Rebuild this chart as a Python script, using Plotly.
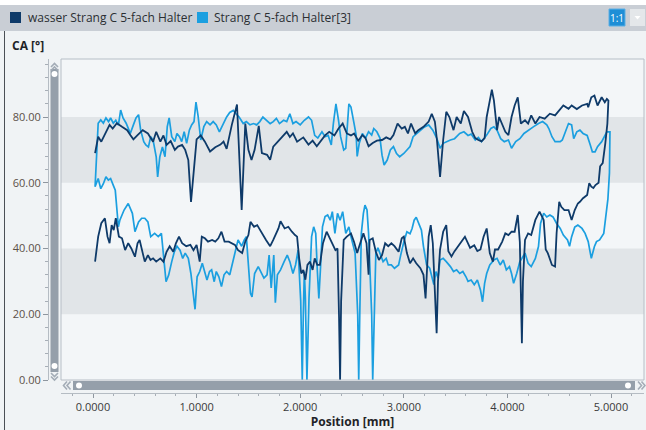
import plotly.graph_objects as go

# ---------------- data ----------------
series_names = ["wasser Strang C 5-fach Halter", "Strang C 5-fach Halter[3]"]

# dark series: outward branch (upper), ascending position
dark_out_x = [0.02,0.05,0.08,0.11,0.13,0.16,0.19,0.23,0.28,0.33,0.36,0.39,0.43,0.48,0.53,0.58,0.61,0.65,0.68,0.71,
              0.75,0.79,0.82,0.86,0.89,0.92,0.946,0.97,1.0,1.04,1.08,1.13,1.18,1.23,1.26,1.29,1.34,1.39,1.435,1.47,
              1.50,1.53,1.56,1.60,1.63,1.68,1.71,1.74,1.79,1.83,1.87,1.90,1.93,1.97,2.03,2.08,2.12,2.16,2.20,2.24,
              2.28,2.33,2.37,2.41,2.45,2.49,2.52,2.56,2.60,2.63,2.66,2.70,2.74,2.79,2.83,2.87,2.90,2.94,2.98,3.01,
              3.04,3.07,3.11,3.14,3.19,3.24,3.27,3.30,3.32,3.35,3.38,3.41,3.44,3.48,3.51,3.55,3.58,3.62,3.66,3.69,
              3.72,3.75,3.78,3.80,3.83,3.85,3.87,3.90,3.92,3.95,3.98,4.01,4.04,4.07,4.10,4.13,4.17,4.20,4.23,4.27,
              4.31,4.36,4.41,4.46,4.51,4.54,4.59,4.62,4.67,4.72,4.77,4.78,4.81,4.84,4.87,4.91,4.94,4.96,4.975]
dark_out_y = [69,74,72.5,74.5,76,77.6,76.5,78.1,77,76,74.5,73.2,74.5,76,75,72.5,75.5,72.5,74.4,71.5,
              72.7,70,71,71.5,70,66.9,54.2,63.9,73.2,74.4,72.5,69.5,70.8,71.6,72.5,70.3,77.6,83.8,51.7,78,
              70,66.9,70,77.3,69,68.5,67,71,72.8,74,75.5,73.9,75,72.5,73.8,71.6,72.8,71.1,72.8,74.4,
              75.5,74.4,76.5,78,75,74.4,75,72.8,74.5,73.6,71.1,72.1,72.8,73,73.8,73.2,74.5,78,76.5,77,
              75,78,75,76,77,78.6,81,78.6,73,61.8,73,81.6,80,76,80,78,81.8,80,75.5,73.6,
              73,72.6,73.6,80,85,88.3,85,76,80,78,75.5,74.5,80,83.5,86,78,79,78,80.5,78,
              80,79.5,81,80.5,82.4,83.5,82.5,83.5,82.4,83.5,84,83,86,86.5,83.5,86,84.5,85.5,85]

# dark series: return branch (lower), listed in ascending position
dark_back_x = [0.02,0.05,0.08,0.115,0.14,0.16,0.18,0.20,0.22,0.25,0.28,0.31,0.34,0.37,0.405,0.43,0.45,0.48,0.50,0.53,
               0.555,0.58,0.61,0.65,0.68,0.71,0.74,0.775,0.80,0.83,0.86,0.90,0.94,0.97,1.00,1.03,1.05,1.08,1.11,1.15,
               1.18,1.21,1.24,1.27,1.31,1.34,1.37,1.40,1.44,1.47,1.50,1.52,1.555,1.585,1.61,1.64,1.67,1.71,1.74,1.79,
               1.81,1.85,1.885,1.92,1.95,1.97,1.99,2.01,2.03,2.05,2.07,2.095,2.12,2.14,2.165,2.19,2.22,2.255,2.28,2.31,
               2.34,2.36,2.375,2.385,2.395,2.42,2.45,2.49,2.52,2.55,2.57,2.61,2.64,2.66,2.67,2.70,2.73,2.76,2.79,2.82,
               2.85,2.88,2.91,2.95,2.98,3.00,3.03,3.06,3.09,3.12,3.16,3.19,3.21,3.24,3.26,3.28,3.30,3.317,3.33,3.35,
               3.38,3.41,3.43,3.46,3.49,3.53,3.59,3.64,3.68,3.71,3.74,3.77,3.80,3.83,3.86,3.88,3.91,3.95,3.98,4.01,
               4.04,4.07,4.10,4.12,4.133,4.14,4.15,4.17,4.20,4.23,4.27,4.31,4.35,4.37,4.39,4.43,4.46,4.475,4.50,4.52,
               4.55,4.59,4.62,4.65,4.68,4.70,4.73,4.77,4.79,4.81,4.83,4.85,4.88,4.895,4.92,4.945,4.965]
dark_back_y = [36,43.6,47.7,49.2,43.6,41.6,47.1,45.6,49.2,43.6,43.1,39.5,41.6,40,37.5,41.6,42.6,38.6,36,38,
               36.5,37,36,37,36,39,40.7,39,41.6,43.6,41.6,40.7,41.1,39.5,41.1,36,43.6,43.1,42.1,42.6,
               42.1,43.1,45.1,42.1,42.1,41.6,41.1,39.5,38.6,42.1,44.1,48.1,46.6,47.1,45.6,44.1,42.6,40.7,42.6,46.1,
               48.3,46.1,46.6,45.1,44.1,43.6,37,32.4,33.5,30.5,35,36,33.5,37,35,35,41.6,45.1,43.6,41.6,
               39.5,40,19,0,24,42.6,43.6,44.6,42,38.6,40.7,44.6,41.6,32,42.6,43.1,39,36.5,38,41.6,
               40.7,41.6,40.7,39,43.1,43.6,38.6,35.5,37,35.5,34,32,24.8,43.6,47.1,41.6,28,14.2,30,39.7,
               45.1,47.1,39.2,37.6,39.2,41.1,43.6,40.2,41,39.2,39.7,43.6,46.1,38.6,36,39.7,39.7,42.1,44.6,44.1,
               45.1,45.1,50.2,42,25,11.2,30,42.6,44.6,44.1,48.7,51.2,48.7,39.7,38.6,35,34.5,44.7,54.2,52.7,
               51.7,51.7,48.7,51.7,53.7,54.2,55.3,56.3,59.9,58.8,58.4,59.3,60,65,66,72,78]

# light series: outward branch (upper), ascending position
light_out_x = [0.02,0.035,0.05,0.075,0.10,0.125,0.15,0.17,0.196,0.22,0.245,0.267,0.29,0.32,0.34,0.36,0.39,0.415,0.44,0.46,
               0.49,0.51,0.535,0.557,0.58,0.61,0.624,0.645,0.67,0.695,0.717,0.735,0.76,0.79,0.81,0.835,0.856,0.88,0.904,0.93,
               0.952,0.975,0.994,1.015,1.04,1.07,1.097,1.13,1.16,1.19,1.22,1.25,1.29,1.32,1.354,1.38,1.41,1.45,1.48,1.515,
               1.55,1.58,1.61,1.64,1.68,1.71,1.74,1.77,1.80,1.84,1.87,1.90,1.93,1.96,2.00,2.04,2.08,2.11,2.14,2.17,
               2.21,2.24,2.27,2.30,2.32,2.345,2.37,2.39,2.42,2.44,2.47,2.49,2.52,2.54,2.55,2.57,2.60,2.63,2.66,2.69,
               2.71,2.74,2.77,2.79,2.81,2.84,2.87,2.90,2.93,2.96,3.00,3.03,3.06,3.09,3.13,3.17,3.20,3.24,3.28,3.32,
               3.35,3.38,3.41,3.45,3.49,3.54,3.58,3.62,3.65,3.69,3.72,3.75,3.80,3.84,3.87,3.90,3.935,3.97,4.01,4.04,
               4.08,4.12,4.16,4.20,4.25,4.30,4.34,4.38,4.40,4.43,4.46,4.51,4.53,4.56,4.59,4.62,4.64,4.67,4.70,4.73,
               4.77,4.80,4.82,4.846,4.87,4.91,4.94,4.96,4.99]
light_out_y = [58.8,70,78.1,79.1,78.1,79.7,78.6,79.7,78.1,79,77.5,82.1,79.7,78.1,76.5,75,77.6,79.7,80.7,76,
               72.5,71.5,70.9,74,73,67.9,61.8,67.9,70.9,67.9,77.1,79.7,74,72.5,75,74,72.5,75.5,72,76,
               77.6,78.6,84.5,80.2,73,77.1,78.6,77.6,78.6,77.6,75.5,77.5,80,81.4,82,81,80,78,78.6,77.6,
               78,77.6,78.6,80,79,78,78.6,79.6,78,79,78.6,81,78,78.6,77.6,79,80,79,74.4,73.6,
               75.5,74,74.4,71.5,78,84,79,74,70,70.5,84,83,78,74.5,68,72,75,73.6,75.5,74.5,
               76.5,75.5,73.6,68.4,65.4,66.9,70,71,68.9,67.9,68.9,70,71,74,75,76,77,77.6,76,73.4,
               70.5,72,72.5,73,73.4,75,75.5,74.4,74.8,73,73.8,72.5,74.5,76.5,77,76,73.4,72.5,73,70.5,
               72.5,73.4,75,76,77,78,78.6,77.6,76.5,74,72.5,72.5,73,75.5,78,77.6,73.4,75.5,76,75,
               74.4,71.5,69.4,69.4,71,72.5,74.4,75.5,75.5]

# light series: return branch (lower), listed in path order (descending position)
light_back_x = [4.985,4.97,4.95,4.93,4.89,4.86,4.84,4.83,4.81,4.795,4.78,4.75,4.72,4.68,4.65,4.62,4.60,4.58,4.54,4.51,
                4.475,4.44,4.41,4.38,4.35,4.32,4.30,4.27,4.23,4.20,4.17,4.14,4.12,4.09,4.06,4.04,4.02,3.99,3.96,3.93,
                3.90,3.87,3.83,3.80,3.78,3.76,3.74,3.71,3.68,3.65,3.62,3.60,3.57,3.54,3.51,3.48,3.45,3.41,3.38,3.35,
                3.33,3.31,3.29,3.25,3.22,3.19,3.17,3.12,3.10,3.08,3.06,3.03,3.00,2.97,2.95,2.91,2.88,2.85,2.83,2.80,
                2.78,2.75,2.73,2.715,2.70,2.69,2.68,2.66,2.645,2.625,2.61,2.59,2.575,2.565,2.555,2.545,2.53,2.49,2.47,2.44,
                2.41,2.385,2.36,2.335,2.31,2.29,2.265,2.24,2.215,2.195,2.18,2.165,2.15,2.13,2.11,2.085,2.065,2.05,2.04,2.03,
                2.02,2.005,1.98,1.955,1.93,1.90,1.875,1.845,1.81,1.78,1.76,1.745,1.72,1.70,1.68,1.65,1.61,1.595,1.56,1.535,
                1.52,1.50,1.48,1.46,1.435,1.40,1.37,1.345,1.32,1.29,1.265,1.24,1.215,1.19,1.17,1.145,1.125,1.10,1.075,1.055,
                1.03,1.005,0.985,0.965,0.945,0.92,0.89,0.866,0.84,0.81,0.785,0.76,0.73,0.705,0.685,0.66,0.63,0.595,0.557,0.53,
                0.50,0.47,0.44,0.405,0.38,0.34,0.30,0.26,0.245,0.23,0.215,0.196,0.17,0.148,0.125,0.10,0.075,0.05,0.02]
light_back_y = [63,55,49,44.6,42.6,42.1,40.6,39.5,37,39.5,42.1,44.6,46.1,47.1,46.5,43.6,40.7,42.6,44.1,46.1,
                47.6,49.6,50.2,49.6,50.7,47.6,40.6,37,34.5,35.5,38.6,37,36,32.4,29.4,32.4,34.5,33.5,36.5,35,
                37,36.5,35,32.4,29.4,23.8,27.4,30.4,29,30.4,30,31.4,33,32.4,33.5,33,34.5,36,37,36.5,
                31,33,29,34,35,40.6,45.6,49.5,48.6,46.1,44.5,45.1,42,38,35,34,35,35,37,36,
                37.6,40.2,38.6,20,0,20,30,44.6,51.7,53.2,50.7,44.6,20,0,20,28.4,38.6,43.6,46.6,44.6,
                51.2,48.6,50.7,44.6,51.2,48.6,50.2,49.7,46.6,33.5,24.8,33.5,44.6,46.6,43.6,25,0,25,33,20,
                0,24,39.5,35,32.4,36,38,36,33.5,32,23.5,38,28,38,32,31,33.5,34.5,32.4,25.3,
                26.4,36.5,43.6,42.6,40.7,42.6,38.6,35,32,33,32,28.4,31.4,33,29.9,33.5,33,30.4,33,35.5,
                33,31.4,21.5,27,32.4,37,38.6,37,39.5,40.7,39,36,31.9,29.9,37.5,44.6,43.6,44.6,43.6,48.1,
                49.2,49.2,48.1,45.1,50.7,53.7,51.7,48.7,46.6,52.7,57.7,59.2,61.3,60.8,61.8,59.7,58.2,61.3,58.8]

x_tick_vals = [0, 1, 2, 3, 4, 5]
y_tick_vals = [0, 20, 40, 60, 80]
band_ranges = [(20, 40), (60, 80)]

# ---------------- geometry helpers (pixel -> paper) ----------------
W, H = 646, 430
ML, MR, MT, MB = 48, 2, 59, 37
PW, PH = W - ML - MR, H - MT - MB
def px(x):
    return (x - ML) / PW
def py(y):
    return (H - MB - y) / PH

plot_left, plot_right, plot_bottom = 61, 644, 380
x_dom = [px(plot_left), 1.0]
y_dom = [py(plot_bottom), 1.0]
ppu = 103.6
x_rng = [(plot_left - 93) / ppu, (plot_right - 93) / ppu]
y_rng = [0, (plot_bottom - MT) / 3.2875]

DARK = "#0E3A69"
LIGHT = "#1B9FE0"
FONT = "Open Sans"

dark_x = dark_out_x + dark_back_x[::-1]
dark_y = dark_out_y + dark_back_y[::-1]
light_x = light_out_x + light_back_x
light_y = light_out_y + light_back_y

fig = go.Figure()
fig.add_trace(go.Scatter(x=light_x, y=light_y, mode="lines", name=series_names[1],
                         line=dict(color=LIGHT, width=1.7), showlegend=False))
fig.add_trace(go.Scatter(x=dark_x, y=dark_y, mode="lines", name=series_names[0],
                         line=dict(color=DARK, width=1.8), showlegend=False))

shapes = []
# bands
for lo, hi in band_ranges:
    shapes.append(dict(type="rect", xref="x domain", yref="y", x0=0, x1=1, y0=lo, y1=hi,
                       fillcolor="#E1E5E8", line=dict(width=0), layer="below"))
# plot border
shapes.append(dict(type="rect", xref="x domain", yref="y domain", x0=0, x1=1, y0=0, y1=1,
                   line=dict(color="#B7BEC6", width=1), fillcolor="rgba(0,0,0,0)"))
# top white strip and header bar
shapes.append(dict(type="rect", xref="paper", yref="paper", x0=px(0), x1=px(646), y0=py(5), y1=py(0),
                   fillcolor="white", line=dict(width=0)))
shapes.append(dict(type="rect", xref="paper", yref="paper", x0=px(0), x1=px(646), y0=py(31), y1=py(5),
                   fillcolor="#C9CED5", line=dict(width=0)))
# left dark border line
shapes.append(dict(type="line", xref="paper", yref="paper", x0=px(4.5), x1=px(4.5), y0=py(31), y1=py(430),
                   line=dict(color="#4A4F55", width=1)))
# legend squares
shapes.append(dict(type="rect", xref="paper", yref="paper", x0=px(10), x1=px(21), y0=py(23), y1=py(12),
                   fillcolor=DARK, line=dict(width=0)))
shapes.append(dict(type="rect", xref="paper", yref="paper", x0=px(197), x1=px(208), y0=py(23), y1=py(12),
                   fillcolor=LIGHT, line=dict(width=0)))
# 1:1 button and dropdown
shapes.append(dict(type="rect", xref="paper", yref="paper", x0=px(609), x1=px(625), y0=py(26), y1=py(9),
                   fillcolor="#1E8ED6", line=dict(color="#5AAFE5", width=1)))
shapes.append(dict(type="rect", xref="paper", yref="paper", x0=px(630), x1=px(645), y0=py(26), y1=py(9),
                   fillcolor="#E4E7EA", line=dict(width=0)))
# vertical scrollbar
shapes.append(dict(type="rect", xref="paper", yref="paper", x0=px(50.5), x1=px(58.5), y0=py(372), y1=py(69),
                   fillcolor="#959FAA", line=dict(width=0)))
# horizontal scrollbar
shapes.append(dict(type="rect", xref="paper", yref="paper", x0=px(73), x1=px(635), y0=py(390), y1=py(381),
                   fillcolor="#959FAA", line=dict(width=0)))
# scrollbar knobs
for cx, cy in [(54.5, 74), (54.5, 366), (79, 385.5), (628, 385.5)]:
    shapes.append(dict(type="circle", xref="paper", yref="paper", x0=px(cx - 3), x1=px(cx + 3),
                       y0=py(cy + 3), y1=py(cy - 3), fillcolor="white", line=dict(width=0)))

def chevron(pts):
    d = "M " + " L ".join(f"{px(a):.5f},{py(b):.5f}" for a, b in pts)
    return dict(type="path", xref="paper", yref="paper", path=d,
                line=dict(color="#A3ACB6", width=1.6))
# vertical chevrons (up / down)
for off in (0, 3.5):
    shapes.append(chevron([(51, 67 + off), (54.5, 63.5 + off), (58, 67 + off)]))
    shapes.append(chevron([(51, 373 + off), (54.5, 376.5 + off), (58, 373 + off)]))
# horizontal chevrons (left / right)
for off in (0, 3.5):
    shapes.append(chevron([(67 + off, 381.5), (63.5 + off, 385.5), (67 + off, 389.5)]))
    shapes.append(chevron([(638 + off, 381.5), (641.5 + off, 385.5), (638 + off, 389.5)]))
# dropdown triangle
shapes.append(dict(type="path", xref="paper", yref="paper",
                   path=f"M {px(634.5)},{py(16)} L {px(640.5)},{py(16)} L {px(637.5)},{py(19.5)} Z",
                   fillcolor="white", line=dict(width=0)))

annotations = [
    dict(text=series_names[0], x=px(26), y=py(17.5), xref="paper", yref="paper", xanchor="left",
         yanchor="middle", showarrow=False, font=dict(family=FONT, size=12, color="#2B2F33")),
    dict(text=series_names[1], x=px(212), y=py(17.5), xref="paper", yref="paper", xanchor="left",
         yanchor="middle", showarrow=False, font=dict(family=FONT, size=12, color="#2B2F33")),
    dict(text="1:1", x=px(617), y=py(17.5), xref="paper", yref="paper", xanchor="center",
         yanchor="middle", showarrow=False, font=dict(family=FONT, size=10, color="white")),
    dict(text="<b>CA [°]</b>", x=px(10), y=py(45), xref="paper", yref="paper", xanchor="left",
         yanchor="middle", showarrow=False, font=dict(family=FONT, size=12, color="#1F2328")),
]

fig.update_layout(
    width=W, height=H,
    margin=dict(l=ML, r=MR, t=MT, b=MB, pad=0),
    paper_bgcolor="#F0F3F5",
    plot_bgcolor="#F3F6F8",
    font=dict(family=FONT, size=11, color="#3A3A3A"),
    showlegend=False,
    shapes=shapes,
    annotations=annotations,
    xaxis=dict(domain=x_dom, range=x_rng, anchor="free", position=0,
               showgrid=False, zeroline=False, showline=True, linecolor="#B5BCC3", linewidth=1,
               ticks="outside", ticklen=4, tickcolor="#8E969F", tickvals=x_tick_vals,
               ticktext=[f"{v:.4f}" for v in x_tick_vals],
               minor=dict(dtick=0.2, tick0=0, ticks="outside", ticklen=2, tickcolor="#A7AEB6"),
               tickfont=dict(family=FONT, size=11, color="#3A3A3A"),
               title=dict(text="<b>Position [mm]</b>", standoff=4,
                          font=dict(family=FONT, size=12, color="#1F2328"))),
    yaxis=dict(domain=y_dom, range=y_rng, anchor="free", position=0,
               showgrid=False, zeroline=False, showline=True, linecolor="#B5BCC3", linewidth=1,
               ticks="outside", ticklen=5, tickcolor="#8E969F", tickvals=y_tick_vals,
               ticktext=[f"{v:.2f}" for v in y_tick_vals],
               minor=dict(dtick=4, tick0=0, ticks="outside", ticklen=3, tickcolor="#A7AEB6"),
               tickfont=dict(family=FONT, size=11, color="#5B5048")),
)

fig.write_html("out.html", config={"displayModeBar": False},
               post_script="document.body.style.margin='0';document.body.style.padding='0';")
